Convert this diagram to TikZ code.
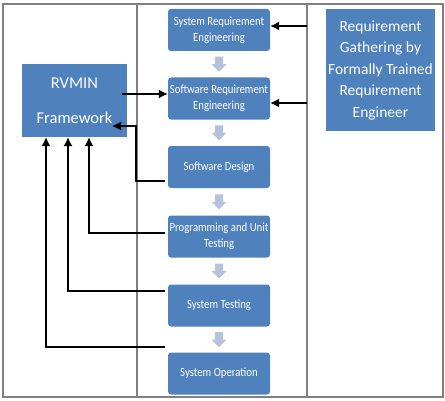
\documentclass[tikz,border=0pt]{standalone}
\usepackage{fontspec}
\setmainfont{Carlito}
\newfontfamily\narrowfont[FakeStretch=0.86]{Carlito}
\usetikzlibrary{shapes,arrows.meta}
\usetikzlibrary{calc}
\definecolor{myblue}{RGB}{79, 129, 189}
\definecolor{mygray}{RGB}{182, 193, 219}
\definecolor{framegray}{RGB}{128, 128, 128}

\begin{document}
\begin{tikzpicture}[x=1pt,y=1pt]

\tikzstyle{blue_block} = [draw=none, fill=myblue, text=white, rounded corners=3, inner sep=1,
minimum width=102, minimum height=42, align=center, font=\narrowfont\fontsize{12.5}{16}\selectfont]
\tikzstyle{big_block} = [draw=none, fill=myblue, text=white, inner sep=2, align=center]
\tikzstyle{conn} = [draw=black, line width=1.4, -{Latex[length=9,width=9]}]
\tikzstyle{frame_line} = [draw=framegray, line width=1.1]

\useasboundingbox (0,0) rectangle (445,400);

\draw[frame_line] (3,3) rectangle (443,396);
\draw[frame_line] (137,3) -- (137,396);
\draw[frame_line] (307,3) -- (307,396);

\node [blue_block] (sysreq) at (219,370) {System Requirement\\Engineering};
\node [blue_block] (swreq) at (219,301.5) {Software Requirement\\Engineering};
\node [blue_block] (design) at (219,233) {Software Design};
\node [blue_block] (prog) at (219,163.5) {Programming and Unit\\Testing};
\node [blue_block] (systest) at (219,94.5) {System Testing};
\node [blue_block] (sysop) at (219,26.5) {System Operation};

\node [big_block, minimum width=105, minimum height=73, font=\fontsize{16.5}{35}\selectfont]
 (rvmin) at (74.5,299.5) {RVMIN\\Framework};
\node [big_block, minimum width=109, minimum height=122, font=\fontsize{15.5}{21.5}\selectfont]
 (gathering) at (380.5,330) {Requirement\\Gathering by\\Formally Trained\\Requirement\\Engineer};

\foreach \a/\b in {sysreq/swreq, swreq/design, design/prog, prog/systest, systest/sysop}{
  \path ($(\a.south)!0.5!(\b.north)$) coordinate (m);
  \fill[mygray] (m) ++(-4,7.5) -- ++(8,0) -- ++(0,-7.5) -- ++(3.5,0) -- ++(-7.5,-7.5)
   -- ++(-7.5,7.5) -- ++(3.5,0) -- cycle;
}

\coordinate (d1) at (307,374);
\coordinate (d2) at (307,297);
\coordinate (r1) at (122,306);

\draw[conn] (d1) -- (d1 -| sysreq.east);
\draw[conn] (d2) -- (d2 -| swreq.east);
\draw[conn] (r1) -- (r1 -| swreq.west);

\draw[conn] ([xshift=-3,yshift=-14]design.west) -| (136,274) -- (112,274);
\draw[conn] ([xshift=-3,yshift=3.5]prog.west) -| (89,0 |- rvmin.south);
\draw[conn] ([xshift=-3,yshift=14.5]systest.west) -| (68,0 |- rvmin.south);
\draw[conn] ([xshift=-3,yshift=5.5]sysop.north west) -| (46,0 |- rvmin.south);

\end{tikzpicture}
\end{document}
